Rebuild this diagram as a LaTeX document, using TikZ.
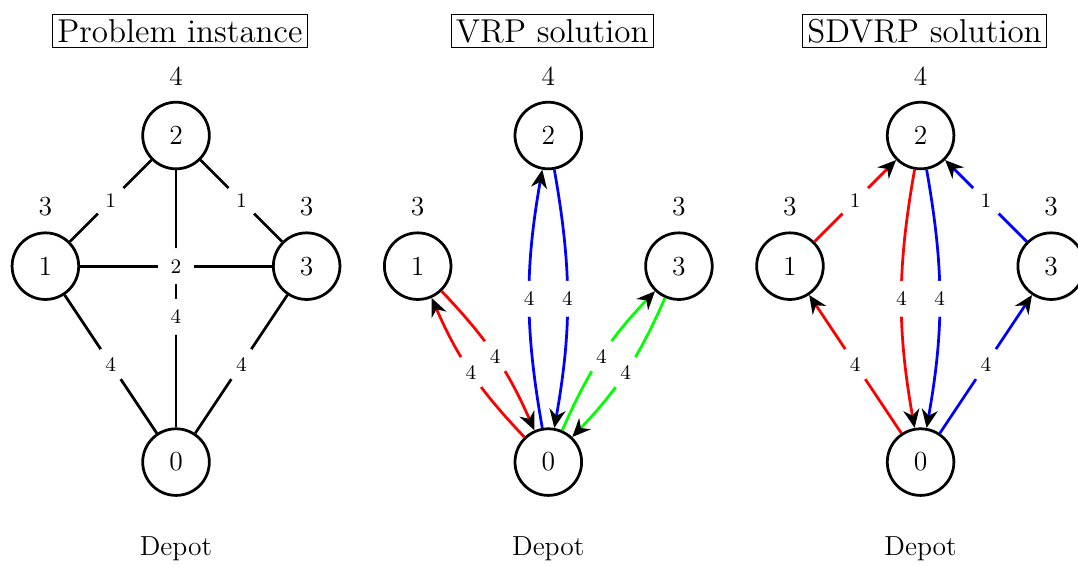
\documentclass[tikz,border=0pt]{standalone}
\usepackage{tikz}
\usetikzlibrary{arrows.meta, positioning}

\begin{document}
\begin{tikzpicture}[
  vertex/.style={circle, draw, line width=1.2pt, minimum size=1.02cm, inner sep=0pt, font=\large},
  demand/.style={font=\large, label distance=3pt},
  cost/.style={circle, fill=white, text=black, inner sep=0pt, minimum size=0.55cm, font=\small},
  link/.style={line width=1.2pt},
  route/.style={line width=1.2pt, -{Stealth[color=black, length=8pt, width=7pt]}},
  heading/.style={draw, font=\Large, inner sep=2pt},
  caption/.style={font=\large}
]
\useasboundingbox (-2.695,-1.593) rectangle (13.81,7.075);

% problem instance
\node[heading] (titleA) at (0.06,6.6) {Problem instance};
\node[vertex] (a0) at (0,0) {0};
\node[vertex, label={[demand]above:3}] (a1) at (-2,3) {1};
\node[vertex, label={[demand]above:4}] (a2) at (0,5) {2};
\node[vertex, label={[demand]above:3}] (a3) at (2,3) {3};
\node[caption] (depotA) at (0,-1.32) {Depot};

\draw[link] (a0) -- node[cost, pos=0.43] {4} (a2);
\draw[link] (a1) -- node[cost] {2} (a3);
\draw[link] (a1) -- node[cost] {1} (a2);
\draw[link] (a2) -- node[cost] {1} (a3);
\draw[link] (a1) -- node[cost] {4} (a0);
\draw[link] (a3) -- node[cost] {4} (a0);

% VRP solution
\begin{scope}[xshift=5.7cm]
\node[heading] (titleB) at (0.06,6.6) {VRP solution};
\node[vertex] (b0) at (0,0) {0};
\node[vertex, label={[demand]above:3}] (b1) at (-2,3) {1};
\node[vertex, label={[demand]above:4}] (b2) at (0,5) {2};
\node[vertex, label={[demand]above:3}] (b3) at (2,3) {3};
\node[caption] (depotB) at (0,-1.32) {Depot};

\draw[route, red] (b0) to[bend left=10] node[cost] {4} (b1);
\draw[route, red] (b1) to[bend left=10] node[cost] {4} (b0);
\draw[route, blue] (b0) to[bend left=10] node[cost] {4} (b2);
\draw[route, blue] (b2) to[bend left=10] node[cost] {4} (b0);
\draw[route, green] (b0) to[bend left=10] node[cost] {4} (b3);
\draw[route, green] (b3) to[bend left=10] node[cost] {4} (b0);
\end{scope}

% SDVRP solution
\begin{scope}[xshift=11.4cm]
\node[heading] (titleC) at (0.06,6.6) {SDVRP solution};
\node[vertex] (c0) at (0,0) {0};
\node[vertex, label={[demand]above:3}] (c1) at (-2,3) {1};
\node[vertex, label={[demand]above:4}] (c2) at (0,5) {2};
\node[vertex, label={[demand]above:3}] (c3) at (2,3) {3};
\node[caption] (depotC) at (0,-1.32) {Depot};

\draw[route, red] (c0) -- node[cost] {4} (c1);
\draw[route, red] (c1) -- node[cost] {1} (c2);
\draw[route, red] (c2) to[bend right=10] node[cost] {4} (c0);
\draw[route, blue] (c0) -- node[cost] {4} (c3);
\draw[route, blue] (c3) -- node[cost] {1} (c2);
\draw[route, blue] (c2) to[bend left=10] node[cost] {4} (c0);
\end{scope}
\end{tikzpicture}
\end{document}
